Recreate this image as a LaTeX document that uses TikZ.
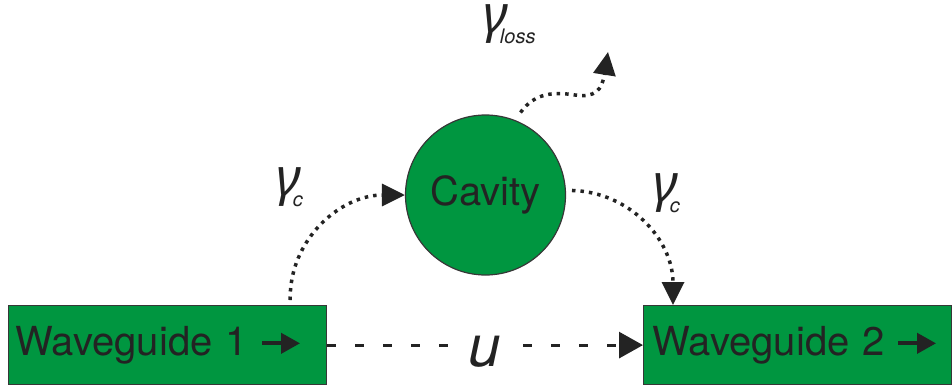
\documentclass[tikz,border=0pt]{standalone}
\usepackage{fontspec}
\setmainfont{TeX Gyre Heros}
\newfontfamily\greekfont{Noto Sans}
\usetikzlibrary{positioning, arrows.meta, calc}
\definecolor{CavityGreen}{RGB}{0, 150, 64}
\definecolor{InkDark}{RGB}{35, 35, 35}
\definecolor{EdgeGray}{RGB}{55, 55, 55}

% small arrow inside the waveguide labels
\newcommand{\wgarrow}{\tikz[baseline=-12pt]\draw[InkDark, line width=4pt, -{Triangle[length=19pt,width=20pt]}] (0pt,0pt) -- (38pt,0pt);}
% coupling rate label
\newcommand{\ratelbl}[1]{{\fontsize{52}{52}\selectfont\greekfont\itshape γ}\kern-8pt\raisebox{-11pt}{\fontsize{20}{20}\selectfont\itshape #1}}

\begin{document}
\begin{tikzpicture}[x=1pt, y=-1pt,
    wgbox/.style={draw=EdgeGray, line width=1.2pt, fill=CavityGreen, text=InkDark,
      minimum height=79pt, anchor=north west, align=left, font=\fontsize{40}{40}\selectfont},
    cavbox/.style={circle, draw=EdgeGray, line width=1.2pt, fill=CavityGreen, text=InkDark,
      minimum size=160pt, inner sep=0pt, font=\fontsize{40}{40}\selectfont},
    flux/.style={InkDark, line width=3.5pt, dash pattern=on 3.5pt off 5pt,
      -{Triangle[length=23pt,width=22pt]}},
    guide/.style={InkDark, line width=3pt, dash pattern=on 9pt off 19pt,
      -{Triangle[length=24pt,width=26pt]}},
    rate/.style={anchor=base west, text=InkDark, inner sep=0pt}]
    \useasboundingbox (0,0) rectangle (952,388);

    % Waveguides and cavity
    \node[wgbox, inner xsep=7pt, text width=304pt] (wg1) at (8,305) {Waveguide 1\hspace{12pt}\wgarrow};
    \node[wgbox, inner xsep=9pt, text width=290pt] (wg2) at (643,305) {Waveguide 2\hspace{11pt}\wgarrow};
    \node[cavbox] (cav) at (485.5,195) {Cavity};

    % Direct transmission
    \draw[guide] (wg1) -- node[fill=white, inner xsep=20pt, inner ysep=2pt, yshift=-7pt,
      text=InkDark, font=\fontsize{58}{58}\selectfont\itshape] (u) {u} (wg2);

    % Coupling in and out
    \draw[flux] ([xshift=-37pt,yshift=5pt]wg1.north east) .. controls (289,240) and (340,195) .. (cav.west);
    \draw[flux] ([shift={(3:6pt)}]cav.3) .. controls (630,192) and (673,240) .. ([xshift=30pt]wg2.north west);

    % Loss channel
    \coordinate (lossend) at (608,52);
    \draw[flux] ([shift={(67:9pt)}]cav.67) .. controls (535,92) and (555,92) .. (575,95)
      .. controls (595,98) and (602,90) .. (lossend);

    % Rates
    \node[rate] (gcin) at (276,195) {\ratelbl{c}};
    \node[rate] (gcout) at (653,201) {\ratelbl{c}};
    \node[rate] (gloss) at (483,32) {\ratelbl{loss}};
  \end{tikzpicture}
\end{document}
